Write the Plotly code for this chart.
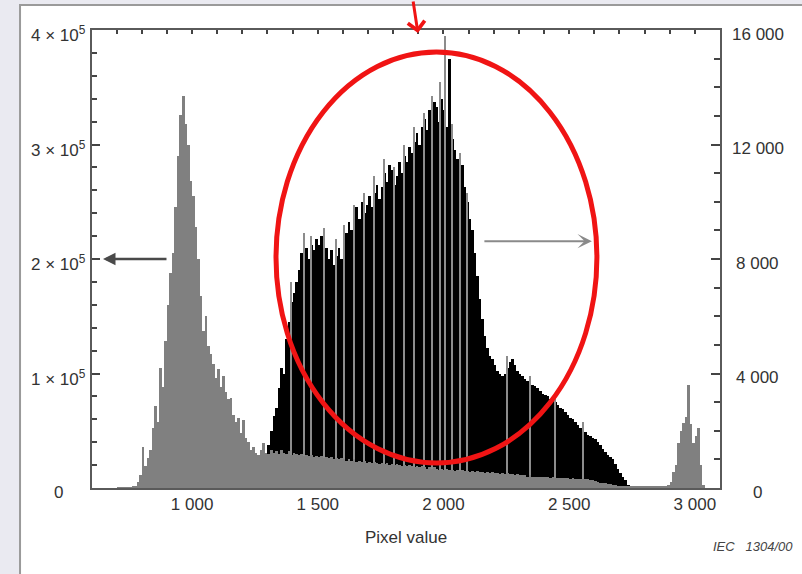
import plotly.graph_objects as go

# ---------------- data ----------------
bin_width = 10

x_tick_values = [1000, 1500, 2000, 2500, 3000]
x_tick_labels = ["1 000", "1 500", "2 000", "2 500", "3 000"]

left_tick_values = [0, 100000, 200000, 300000, 400000]
left_tick_labels = ["0", "1 × 10<sup>5</sup>", "2 × 10<sup>5</sup>",
                    "3 × 10<sup>5</sup>", "4 × 10<sup>5</sup>"]

right_tick_values = [0, 4000, 8000, 12000, 16000]
right_tick_labels = ["0", "4 000", "8 000", "12 000", "16 000"]

# grey histogram (left axis), 10-unit bins starting at 700
gray_first_bin = 700
gray_counts = [
    300, 400, 500, 500, 600, 800, 1000, 2000, 5000, 11000,                          # 700
    36000, 19000, 26000, 33000, 52000, 72000, 58000, 105000, 88000, 128000,         # 800
    160000, 188000, 205000, 245000, 290000, 326000, 342000, 318000, 300000, 268000, # 900
    255000, 228000, 200000, 168000, 137000, 150000, 124000, 117000, 108000, 96000,  # 1000
    104000, 88000, 98000, 84000, 78000, 79000, 64000, 58000, 61000, 48000,          # 1100
    59000, 44000, 40000, 33000, 36000, 31000, 29000, 33000, 39000, 31000,           # 1200
    30000, 33000, 31000, 32000, 30000, 33000, 31000, 30000, 32000, 29000,           # 1300
    31000, 30000, 29000, 30000, 28000, 29000, 28000, 29000, 27000, 28000,           # 1400
    27000, 28000, 26000, 27000, 26000, 27000, 25000, 26000, 25000, 26000,           # 1500
    25000, 24000, 25000, 24000, 25000, 23000, 24000, 23000, 24000, 22000,           # 1600
    23000, 22000, 23000, 22000, 21000, 22000, 21000, 22000, 20000, 21000,           # 1700
    20000, 21000, 20000, 19000, 20000, 19000, 20000, 19000, 18000, 19000,           # 1800
    18000, 19000, 18000, 17000, 18000, 17000, 18000, 17000, 16000, 17000,           # 1900
    16000, 17000, 16000, 16000, 15000, 16000, 15000, 16000, 15000, 15000,           # 2000
    14000, 15000, 14000, 15000, 14000, 14000, 13000, 14000, 13000, 14000,           # 2100
    13000, 13000, 12000, 13000, 12000, 13000, 12000, 12000, 11000, 12000,           # 2200
    11000, 11000, 11000, 10000, 11000, 10000, 10000, 10000, 9500, 10000,            # 2300
    9500, 9500, 9000, 9500, 9000, 9000, 8500, 9000, 8500, 8500,                     # 2400
    8000, 8500, 8000, 8000, 7500, 8000, 7500, 7500, 7000, 7000,                     # 2500
    6500, 5000, 4500, 4000, 4000, 3500, 3500, 3000, 2500, 2000,                     # 2600
    1500, 1200, 1000, 1000, 900, 1000, 900, 1000, 900, 1000,                        # 2700
    900, 1000, 900, 1000, 900, 1000, 900, 1000, 1500, 2500,                         # 2800
    5000, 14000, 20000, 39000, 50000, 57000, 62000, 90000, 56000, 39000,            # 2900
    45000, 52000, 20000, 3000,                                                      # 3000
]

# black histogram (right axis), 10-unit bins starting at 1300
black_first_bin = 1300
black_counts = [
    1500, 2000, 2500, 2800, 3500, 4200, 4000, 5200, 5800, 6500,          # 1300
    6800, 7200, 7600, 8200, 7800, 8400, 8000, 8500, 8300, 8700,          # 1400
    8500, 8800, 8600, 8400, 8000, 8300, 7800, 8100, 8400, 8000,          # 1500
    8600, 8900, 9300, 9000, 9500, 9800, 9400, 10000, 9600, 9900,         # 1600
    10200, 9800, 10300, 10600, 10100, 10500, 11000, 10700, 11300, 11100, # 1700
    10600, 10900, 11400, 11000, 11600, 11400, 11900, 11700, 12100, 12400,# 1800
    12000, 12600, 12900, 12500, 13200, 13000, 13500, 13300, 12800, 13600,# 1900
    13200, 12600, 15000, 12200, 11800, 11500, 11000, 11300, 10500, 10000,# 2000
    9400, 9000, 8200, 7400, 6600, 5900, 5300, 4900, 4600, 4500,          # 2100
    4300, 4100, 4000, 3900, 4000, 4200, 4400, 4500, 4300, 4100,          # 2200
    4000, 3900, 3800, 3750, 3700, 3600, 3550, 3500, 3400, 3300,          # 2300
    3250, 3200, 3100, 3050, 3000, 2900, 2800, 2750, 2650, 2550,          # 2400
    2450, 2400, 2300, 2200, 2100, 2050, 1950, 1850, 1800, 1750,          # 2500
    1700, 1600, 1500, 1350, 1250, 1150, 1100, 1000, 850, 650,            # 2600
    520, 380, 280, 100,                                                  # 2700
]

# thin single-value lines of the black histogram that print lighter
spike_pixel_values = [1395, 1445, 1475, 1525, 1575, 1605, 1645, 1685, 1725, 1765,
                      1805, 1845, 1885, 1925, 1955, 1985, 2005, 2035, 2065, 2095,
                      2255, 2345, 2445, 2555]
spike_counts = [7200, 8900, 8800, 9100, 8700, 9200, 9900, 10300, 10900, 11500,
                11200, 12000, 12600, 13100, 13700, 14200, 15800, 12700, 11700, 10300,
                4600, 3900, 3200, 2300]

# ---------------- figure ----------------
FONT = "Liberation Sans, Arial, sans-serif"
TXT = "#333333"
AX = "#5a5a5a"
X_RANGE = [602, 3100]

gray_x = [gray_first_bin + bin_width * i + bin_width / 2 for i in range(len(gray_counts))]
black_x = [black_first_bin + bin_width * i + bin_width / 2 for i in range(len(black_counts))]

fig = go.Figure()
fig.add_trace(go.Bar(x=black_x, y=black_counts, width=bin_width, xaxis="x", yaxis="y",
                     marker=dict(color="#000000", line=dict(width=0)), hoverinfo="skip"))
fig.add_trace(go.Bar(x=spike_pixel_values, y=spike_counts, width=5, xaxis="x", yaxis="y",
                     marker=dict(color="#8c8c8c", line=dict(width=0)), hoverinfo="skip"))
fig.add_trace(go.Bar(x=gray_x, y=gray_counts, width=bin_width, xaxis="x", yaxis="y2",
                     marker=dict(color="#808080", line=dict(width=0)), hoverinfo="skip"))
fig.add_trace(go.Scatter(x=[X_RANGE[0]], y=[0], xaxis="x2", yaxis="y", mode="markers",
                         marker=dict(opacity=0), hoverinfo="skip"))

annotations = []
for v, t in zip(left_tick_values, left_tick_labels):
    annotations.append(dict(x=-0.054, xref="paper", y=v, yref="y2", text=t,
                            showarrow=False, xanchor="center", yanchor="middle",
                            yshift=-4, font=dict(family=FONT, size=17, color=TXT)))
for v, t in zip(right_tick_values, right_tick_labels):
    annotations.append(dict(x=1.0605, xref="paper", y=v, yref="y", text=t,
                            showarrow=False, xanchor="center", yanchor="middle",
                            yshift=-4, font=dict(family=FONT, size=17, color=TXT)))
# arrows
annotations.append(dict(x=0.519, y=0.9934, xref="paper", yref="paper", text="",
                        showarrow=True, ax=-5, ay=-38, arrowcolor="#f01414",
                        arrowwidth=3, arrowhead=4, arrowsize=1.1))
annotations.append(dict(x=0.0175, y=0.5, xref="paper", yref="paper", text="",
                        showarrow=True, ax=65, ay=0, arrowcolor="#4a4a4a",
                        arrowwidth=2.5, arrowhead=2, arrowsize=1))
annotations.append(dict(x=0.796, y=0.539, xref="paper", yref="paper", text="",
                        showarrow=True, ax=-109, ay=0, arrowcolor="#8a8a8a",
                        arrowwidth=2, arrowhead=3, arrowsize=1.2))
annotations.append(dict(x=0.985, y=-0.1288, xref="paper", yref="paper",
                        text="<i>IEC&nbsp;&nbsp;&nbsp;1304/00</i>", showarrow=False,
                        xanchor="left", yanchor="middle",
                        font=dict(family=FONT, size=13, color="#444444")))

fig.update_layout(
    width=802, height=574,
    margin=dict(l=92, r=82, t=30, b=86),
    paper_bgcolor="#eaeaf1",
    plot_bgcolor="white",
    barmode="overlay",
    bargap=0,
    bargroupgap=0,
    showlegend=False,
    font=dict(family=FONT, size=17, color=TXT),
    xaxis=dict(range=X_RANGE, showline=True, linecolor=AX, linewidth=2,
               ticks="", tickvals=x_tick_values, ticktext=x_tick_labels,
               tickfont=dict(size=17, color=TXT), showgrid=False, zeroline=False,
               title=dict(text="Pixel value", font=dict(size=17, color=TXT), standoff=18)),
    xaxis2=dict(range=X_RANGE, overlaying="x", side="top", anchor="y",
                showline=True, linecolor=AX, linewidth=2,
                ticks="inside", ticklen=4, tickwidth=1.5, tickcolor="#444444",
                tick0=0, dtick=100, showticklabels=False, showgrid=False, zeroline=False),
    yaxis=dict(side="right", range=[0, 16000], showline=True, linecolor=AX, linewidth=2,
               ticks="inside", tickvals=right_tick_values, ticklen=9, tickwidth=1.5,
               tickcolor="#444444",
               minor=dict(ticks="inside", dtick=1000, ticklen=6, tickwidth=1.5,
                          tickcolor="#444444"),
               showticklabels=False, showgrid=False, zeroline=False),
    yaxis2=dict(overlaying="y", side="left", range=[0, 400000], showline=True,
                linecolor=AX, linewidth=2,
                ticks="inside", tickvals=left_tick_values, ticklen=8, tickwidth=1.5,
                tickcolor="#444444",
                minor=dict(ticks="inside", dtick=20000, ticklen=5, tickwidth=1.5,
                           tickcolor="#444444"),
                showticklabels=False, showgrid=False, zeroline=False),
    shapes=[
        dict(type="rect", xref="paper", yref="paper", layer="below",
             x0=-0.1146, x1=1.25, y0=-0.3, y1=1.0546,
             fillcolor="white", line=dict(color="#9a9a9a", width=2)),
        dict(type="circle", xref="paper", yref="paper",
             x0=0.293, x1=0.804, y0=0.0546, y1=0.952,
             line=dict(color="#f01414", width=5)),
    ],
    annotations=annotations,
)

fig.write_html("out.html",
               config={"displayModeBar": False},
               post_script="document.body.style.margin='0';document.body.style.overflow='hidden';")
